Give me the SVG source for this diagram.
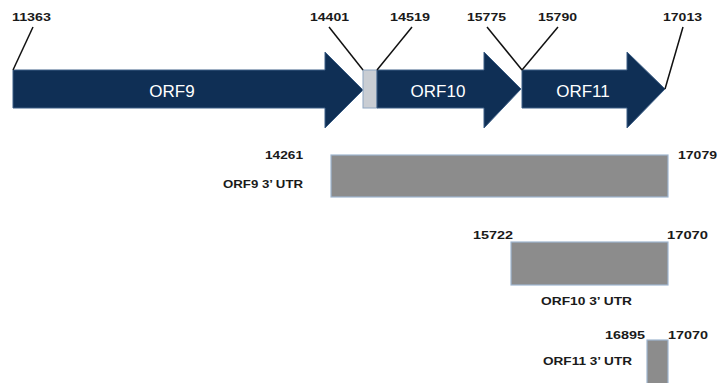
<svg xmlns="http://www.w3.org/2000/svg" width="724" height="383" viewBox="0 0 724 383">
<style>
.num{font-family:"Liberation Sans",Arial,sans-serif;font-weight:bold;font-size:11px;fill:#1a1a1a}
.lab{font-family:"Liberation Sans",Arial,sans-serif;font-weight:bold;font-size:11px;fill:#1a1a1a}
.orf{font-family:"Liberation Sans",Arial,sans-serif;font-size:17px;fill:#ffffff}
.arrow{fill:#0f2f55;stroke:#3d5f86;stroke-width:1}
.utr{fill:#8c8c8c;stroke:#9fb6d0;stroke-width:1.2}
.lead{stroke:#111;stroke-width:1.5;fill:none}
</style>
<rect width="724" height="383" fill="#ffffff"/>
<g id="orf9">
<polygon class="arrow" points="13,70 325,70 325,52 363,90 325,128 325,108 13,108"/>
<text class="orf" x="172" y="97" text-anchor="middle">ORF9</text>
</g>
<g id="spacer">
<rect x="363" y="70" width="14" height="38" fill="#c9cdd3" stroke="#8ea6c2" stroke-width="1"/>
</g>
<g id="orf10">
<polygon class="arrow" points="377,70 484,70 484,52 521,89 484,128 484,108 377,108"/>
<text class="orf" x="438" y="97" text-anchor="middle">ORF10</text>
</g>
<g id="orf11">
<polygon class="arrow" points="522,70 627,70 627,52 665,89 627,128 627,108 522,108"/>
<text class="orf" x="583" y="97" text-anchor="middle">ORF11</text>
</g>
<g id="connectors">
<line class="lead" x1="33" y1="27" x2="13" y2="70"/>
<line class="lead" x1="329" y1="27" x2="363" y2="70"/>
<line class="lead" x1="412" y1="27" x2="377" y2="70"/>
<line class="lead" x1="487" y1="27" x2="522" y2="70"/>
<line class="lead" x1="558" y1="27" x2="522" y2="70"/>
<line class="lead" x1="683" y1="27" x2="665" y2="89"/>
</g>
<g id="position-labels">
<text class="num" x="12" y="21" textLength="39" lengthAdjust="spacingAndGlyphs">11363</text>
<text class="num" x="310" y="21" textLength="39" lengthAdjust="spacingAndGlyphs">14401</text>
<text class="num" x="390" y="21" textLength="40" lengthAdjust="spacingAndGlyphs">14519</text>
<text class="num" x="467" y="21" textLength="39" lengthAdjust="spacingAndGlyphs">15775</text>
<text class="num" x="538" y="21" textLength="39" lengthAdjust="spacingAndGlyphs">15790</text>
<text class="num" x="663" y="21" textLength="39" lengthAdjust="spacingAndGlyphs">17013</text>
</g>
<g id="orf9-utr">
<rect class="utr" x="331" y="155" width="337" height="42"/>
<text class="num" x="265" y="159" textLength="38" lengthAdjust="spacingAndGlyphs">14261</text>
<text class="num" x="678" y="159" textLength="39" lengthAdjust="spacingAndGlyphs">17079</text>
<text class="lab" x="223" y="188" textLength="80" lengthAdjust="spacingAndGlyphs">ORF9 3’ UTR</text>
</g>
<g id="orf10-utr">
<rect class="utr" x="511" y="242" width="157" height="43"/>
<text class="num" x="473" y="239" textLength="40" lengthAdjust="spacingAndGlyphs">15722</text>
<text class="num" x="667" y="239" textLength="41" lengthAdjust="spacingAndGlyphs">17070</text>
<text class="lab" x="541" y="305" textLength="91" lengthAdjust="spacingAndGlyphs">ORF10 3’ UTR</text>
</g>
<g id="orf11-utr">
<rect class="utr" x="647" y="340" width="21" height="45"/>
<text class="num" x="605" y="339" textLength="40" lengthAdjust="spacingAndGlyphs">16895</text>
<text class="num" x="668" y="339" textLength="40" lengthAdjust="spacingAndGlyphs">17070</text>
<text class="lab" x="543" y="365" textLength="89" lengthAdjust="spacingAndGlyphs">ORF11 3’ UTR</text>
</g>
</svg>
